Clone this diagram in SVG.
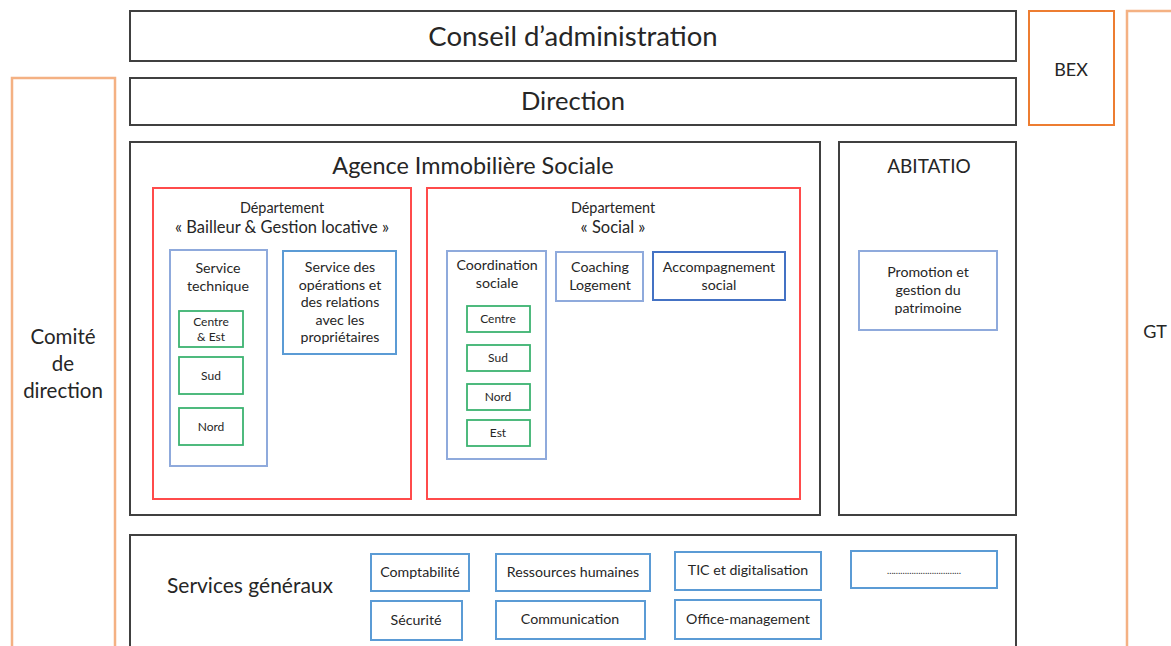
<svg xmlns="http://www.w3.org/2000/svg" width="1171" height="646" viewBox="0 0 1171 646">
<style>
text{font-family:Lato,"Open Sans","Liberation Sans",sans-serif;fill:#262626;text-anchor:middle}
.blk{fill:#fff;stroke:#404040;stroke-width:2}
.org{fill:#fff;stroke:#F4B183;stroke-width:2.5}
.bex{fill:#fff;stroke:#ED7D31;stroke-width:2}
.red{fill:#fff;stroke:#FF4B4B;stroke-width:2}
.lb{fill:#fff;stroke:#8FAADC;stroke-width:2}
.db{fill:#fff;stroke:#4472C4;stroke-width:2}
.mb{fill:#fff;stroke:#5B9BD5;stroke-width:2}
.gr{fill:#fff;stroke:#3CB371;stroke-width:1.8}
.s11{font-size:12px}.s13{font-size:14.2px}.s14{font-size:14.4px}.s15{font-size:16.5px}
</style>
<rect width="1171" height="646" fill="#fff"/>
<g id="conseil"><rect class="blk" x="130" y="11" width="886" height="50"/><text x="573" y="46" style="font-size:27.5px">Conseil d’administration</text></g>
<g id="direction"><rect class="blk" x="130" y="78" width="886" height="47"/><text x="573" y="110" style="font-size:25.5px">Direction</text></g>
<g id="comite"><rect class="org" x="12" y="78" width="103" height="580"/><text x="63" y="344" style="font-size:20.5px">Comité</text><text x="63" y="371" style="font-size:20.5px">de</text><text x="63" y="398" style="font-size:20.5px">direction</text></g>
<g id="bex"><rect class="bex" x="1029" y="11" width="85" height="114"/><text x="1071" y="76" style="font-size:18px">BEX</text></g>
<g id="gt"><rect class="org" x="1127" y="11" width="60" height="650"/><text x="1155" y="338" style="font-size:18px">GT</text></g>
<g id="agence"><rect class="blk" x="130" y="142" width="690" height="373"/><text x="473" y="174" style="font-size:23.4px">Agence Immobilière Sociale</text></g>
<g id="abitatio"><rect class="blk" x="839" y="142" width="177" height="373"/><text x="929" y="173" style="font-size:19px">ABITATIO</text></g>
<g id="dept-bailleur"><rect class="red" x="153" y="188" width="258" height="311"/><text class="s14" x="282" y="213">Département</text><text class="s15" x="282" y="233">« Bailleur &amp; Gestion locative »</text></g>
<g id="service-technique"><rect class="lb" x="170" y="250" width="97" height="216"/><text class="s13" x="218" y="273">Service</text><text class="s13" x="218" y="291">technique</text></g>
<g id="st-centre-est"><rect class="gr" x="179" y="311" width="64" height="36"/><text class="s11" x="211" y="326">Centre</text><text class="s11" x="211" y="341">&amp; Est</text></g>
<g id="st-sud"><rect class="gr" x="179" y="357" width="64" height="37"/><text class="s11" x="211" y="380">Sud</text></g>
<g id="st-nord"><rect class="gr" x="179" y="408" width="64" height="37"/><text class="s11" x="211" y="431">Nord</text></g>
<g id="service-operations"><rect class="mb" x="283" y="251" width="113" height="103"/><text class="s13" x="340" y="272">Service des</text><text class="s13" x="340" y="290">opérations et</text><text class="s13" x="340" y="307">des relations</text><text class="s13" x="340" y="325">avec les</text><text class="s13" x="340" y="342">propriétaires</text></g>
<g id="dept-social"><rect class="red" x="427" y="188" width="373" height="311"/><text class="s14" x="613" y="213">Département</text><text class="s15" x="613" y="233">« Social »</text></g>
<g id="coordination"><rect class="lb" x="447" y="251" width="99" height="208"/><text class="s13" x="497" y="270">Coordination</text><text class="s13" x="497" y="288">sociale</text></g>
<g id="cs-centre"><rect class="gr" x="467" y="306" width="63" height="26"/><text class="s11" x="498" y="323">Centre</text></g>
<g id="cs-sud"><rect class="gr" x="467" y="345" width="63" height="26"/><text class="s11" x="498" y="362">Sud</text></g>
<g id="cs-nord"><rect class="gr" x="467" y="384" width="63" height="26"/><text class="s11" x="498" y="401">Nord</text></g>
<g id="cs-est"><rect class="gr" x="467" y="420" width="63" height="26"/><text class="s11" x="498" y="437">Est</text></g>
<g id="coaching"><rect class="lb" x="556" y="252" width="87" height="49"/><text class="s13" x="600" y="272">Coaching</text><text class="s13" x="600" y="290">Logement</text></g>
<g id="accompagnement"><rect class="db" x="653" y="252" width="132" height="48"/><text class="s13" x="719" y="272">Accompagnement</text><text class="s13" x="719" y="290">social</text></g>
<g id="promotion"><rect class="lb" x="859" y="251" width="138" height="79"/><text class="s13" x="928" y="277">Promotion et</text><text class="s13" x="928" y="295">gestion du</text><text class="s13" x="928" y="313">patrimoine</text></g>
<g id="services-generaux"><rect class="blk" x="130" y="535" width="886" height="130"/><text x="250" y="593" style="font-size:21px">Services généraux</text></g>
<g id="comptabilite"><rect class="mb" x="371" y="554" width="98" height="37"/><text class="s13" x="420" y="577">Comptabilité</text></g>
<g id="rh"><rect class="mb" x="496" y="554" width="154" height="37"/><text class="s13" x="573" y="577">Ressources humaines</text></g>
<g id="tic"><rect class="mb" x="675" y="552" width="146" height="38"/><text class="s13" x="748" y="575">TIC et digitalisation</text></g>
<g id="autre"><rect class="mb" x="851" y="551" width="146" height="37"/><text x="924" y="574" style="font-size:9px">……………………………</text></g>
<g id="securite"><rect class="mb" x="371" y="601" width="91" height="39"/><text class="s13" x="416" y="625">Sécurité</text></g>
<g id="communication"><rect class="mb" x="496" y="601" width="149" height="38"/><text class="s13" x="570" y="624">Communication</text></g>
<g id="office"><rect class="mb" x="675" y="600" width="146" height="39"/><text class="s13" x="748" y="624">Office-management</text></g>
<g id="connectors"></g>
</svg>
